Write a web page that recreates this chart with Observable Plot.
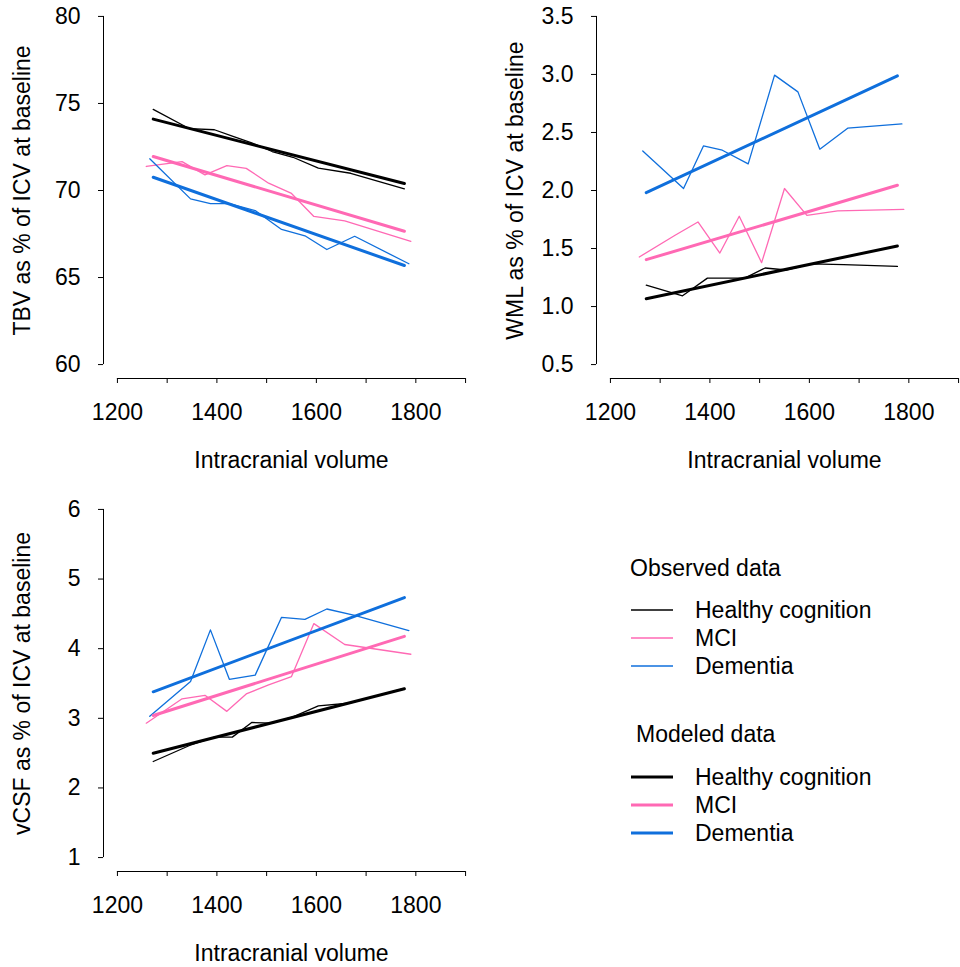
<!DOCTYPE html>
<html>
<head>
<meta charset="utf-8">
<script src="https://cdn.jsdelivr.net/npm/d3@7"></script>
<script src="https://cdn.jsdelivr.net/npm/@observablehq/plot@0.6"></script>
<style>
html, body { margin: 0; padding: 0; background: #fff; overflow: hidden; }
#root { position: relative; width: 960px; height: 967px; overflow: hidden; background: #fff; }
.panel { position: absolute; }
</style>
</head>
<body>
<div id="root"></div>
<script>
// ---------- data ----------
const groups = ["Healthy cognition", "MCI", "Dementia"];
const groupColors = ["#000000", "#ff69b4", "#0f6fdc"];

// mean intracranial volume of each observed bin, per group
const icvHealthy  = [1272, 1345, 1395, 1431, 1470, 1511, 1553, 1604, 1669, 1777];
const icvMCI      = [1258, 1330, 1376, 1420, 1459, 1504, 1550, 1595, 1657, 1790];
const icvDementia = [1265, 1347, 1387, 1425, 1477, 1530, 1577, 1621, 1677, 1786];
const icvModel    = [1272, 1777];

// TBV
const tbvHealthy  = [74.66, 73.55, 73.49, 73.12, 72.74, 72.24, 71.91, 71.28, 70.99, 70.10];
const tbvMCI      = [71.38, 71.66, 70.90, 71.43, 71.27, 70.42, 69.83, 68.51, 68.25, 67.08];
const tbvDementia = [71.82, 69.52, 69.25, 69.25, 68.85, 67.76, 67.40, 66.61, 67.37, 65.79];
const tbvModelHealthy  = [74.10, 70.40];
const tbvModelMCI      = [71.95, 67.66];
const tbvModelDementia = [70.76, 65.69];

// WML
const wmlHealthy  = [1.185, 1.093, 1.245, 1.245, 1.245, 1.332, 1.315, 1.368, 1.362, 1.346];
const wmlMCI      = [1.427, 1.614, 1.729, 1.461, 1.778, 1.378, 2.017, 1.786, 1.824, 1.838];
const wmlDementia = [2.341, 2.017, 2.384, 2.347, 2.229, 2.994, 2.850, 2.356, 2.537, 2.574];
const wmlModelHealthy  = [1.068, 1.522];
const wmlModelMCI      = [1.404, 2.045];
const wmlModelDementia = [1.982, 2.988];

// vCSF
const csfHealthy  = [2.38, 2.61, 2.73, 2.73, 2.94, 2.93, 3.02, 3.18, 3.22, 3.43];
const csfMCI      = [2.93, 3.28, 3.33, 3.10, 3.35, 3.48, 3.60, 4.36, 4.06, 3.92];
const csfDementia = [3.03, 3.53, 4.27, 3.56, 3.62, 4.45, 4.42, 4.57, 4.48, 4.26];
const csfModelHealthy  = [2.498, 3.424];
const csfModelMCI      = [3.040, 4.177];
const csfModelDementia = [3.381, 4.734];

// axes
const xRange = [1200, 1900];
const xTicks = [1200, 1300, 1400, 1500, 1600, 1700, 1800, 1900];
const xTickLabels = [1200, 1400, 1600, 1800];
const xTitle = "Intracranial volume";
const tbvTicks = [60, 65, 70, 75, 80];
const wmlTicks = [0.5, 1.0, 1.5, 2.0, 2.5, 3.0, 3.5];
const csfTicks = [1, 2, 3, 4, 5, 6];
const tbvTitle = "TBV as % of ICV at baseline";
const wmlTitle = "WML as % of ICV at baseline";
const csfTitle = "vCSF as % of ICV at baseline";
const legendObservedTitle = "Observed data";
const legendModeledTitle = "Modeled data";

// ---------- drawing ----------
const FONT = "'Liberation Sans', Arial, Helvetica, sans-serif";
const FS = 23;

function panel(yTitle, yTicks, yFmt, observed, modeled) {
  const icvObserved = [icvHealthy, icvMCI, icvDementia];
  const obs = [], mod = [];
  groups.forEach((g, i) => {
    observed[i].forEach((v, j) => obs.push({group: g, icv: icvObserved[i][j], value: v}));
    modeled[i].forEach((v, j) => mod.push({group: g, icv: icvModel[j], value: v}));
  });
  const y0 = yTicks[0], y1 = yTicks[yTicks.length - 1];
  const [x0, x1] = xRange;
  const px = 0.04 * (x1 - x0), py = 0.04 * (y1 - y0);
  return Plot.plot({
    width: 480, height: 480,
    marginLeft: 103, marginTop: 2, marginRight: 1, marginBottom: 102,
    style: {fontFamily: FONT, fontSize: FS + "px", color: "black", background: "transparent", overflow: "visible"},
    x: {domain: [x0 - px, x1 + px]},
    y: {domain: [y0 - py, y1 + py]},
    color: {domain: groups, range: groupColors},
    marks: [
      Plot.axisX({ticks: xTicks, tickFormat: d => xTickLabels.includes(d) ? String(d) : "", tickSize: 5, tickPadding: 20, label: null}),
      Plot.axisY({ticks: yTicks, tickFormat: yFmt, tickSize: 5, tickPadding: 18, label: null}),
      Plot.ruleY([y0 - py], {x1: x0, x2: x1, stroke: "black", strokeWidth: 1}),
      Plot.ruleX([x0 - px], {y1: y0, y2: y1, stroke: "black", strokeWidth: 1}),
      Plot.line(obs, {x: "icv", y: "value", z: "group", stroke: "group", strokeWidth: 1.3}),
      Plot.line(mod, {x: "icv", y: "value", z: "group", stroke: "group", strokeWidth: 3}),
      Plot.text([xTitle], {text: d => d, frameAnchor: "bottom", dy: 82, textAnchor: "middle", lineAnchor: "middle", fill: "black"}),
      Plot.text([yTitle], {text: d => d, frameAnchor: "left", dx: -81, rotate: -90, textAnchor: "middle", lineAnchor: "middle", fill: "black"})
    ]
  });
}

const root = document.getElementById("root");
function place(node, left, top) {
  node.classList.add("panel");
  node.style.left = left + "px";
  node.style.top = top + "px";
  root.appendChild(node);
}

place(panel(tbvTitle, tbvTicks, d => String(d),
  [tbvHealthy, tbvMCI, tbvDementia], [tbvModelHealthy, tbvModelMCI, tbvModelDementia]), 0, 0);
place(panel(wmlTitle, wmlTicks, d3.format(".1f"),
  [wmlHealthy, wmlMCI, wmlDementia], [wmlModelHealthy, wmlModelMCI, wmlModelDementia]), 493, 0);
place(panel(csfTitle, csfTicks, d => String(d),
  [csfHealthy, csfMCI, csfDementia], [csfModelHealthy, csfModelMCI, csfModelDementia]), 0, 493);

// legend
const leg = d3.create("svg").attr("width", 330).attr("height", 320)
  .style("font-family", FONT).style("font-size", FS + "px");
const L = {x: 600, y: 540};
function legendBlock(title, titleX, titleY, rowY0, width) {
  leg.append("text").attr("x", titleX - L.x).attr("y", titleY - L.y).attr("dy", "0.35em").text(title);
  groups.forEach((g, i) => {
    const y = rowY0 + i * 28 - L.y;
    leg.append("line").attr("x1", 31).attr("x2", 73).attr("y1", y).attr("y2", y)
      .attr("stroke", groupColors[i]).attr("stroke-width", width);
    leg.append("text").attr("x", 95).attr("y", y).attr("dy", "0.35em").text(g);
  });
}
legendBlock(legendObservedTitle, 630, 568, 610, 1.3);
legendBlock(legendModeledTitle, 636, 734, 777, 3);
place(leg.node(), L.x, L.y);
</script>
</body>
</html>
